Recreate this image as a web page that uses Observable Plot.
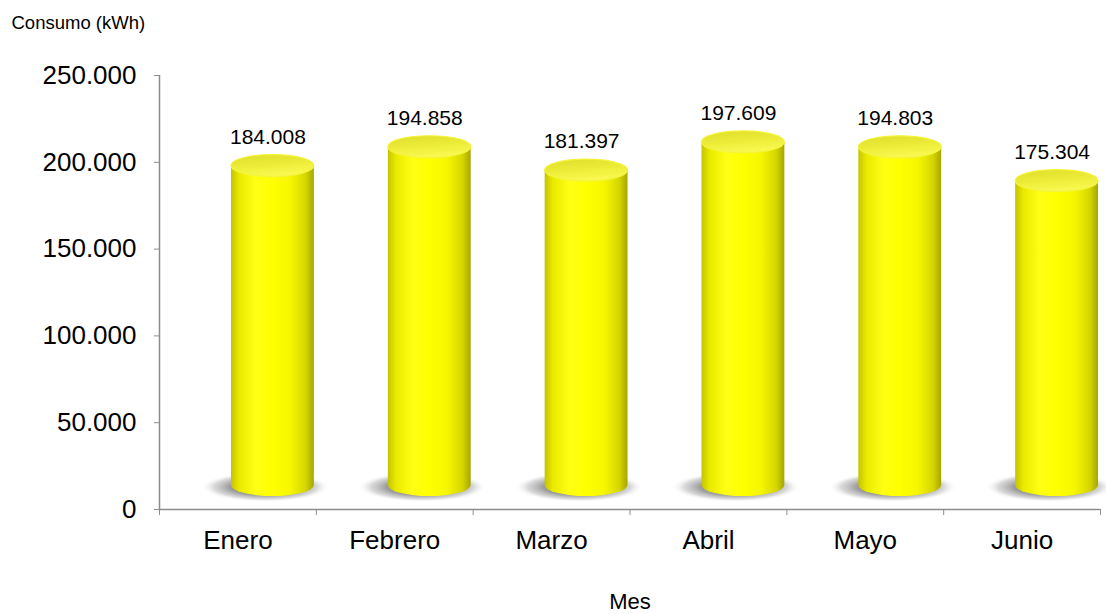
<!DOCTYPE html>
<html>
<head>
<meta charset="utf-8">
<script src="https://cdn.jsdelivr.net/npm/d3@7"></script>
<script src="https://cdn.jsdelivr.net/npm/@observablehq/plot@0.6"></script>
<style>
  html, body { margin: 0; padding: 0; background: #ffffff; }
  #chart svg { display: block; }
</style>
</head>
<body>
<div id="chart"></div>
<script>
// ---- data ----
const months = ["Enero", "Febrero", "Marzo", "Abril", "Mayo", "Junio"];
const consumo = [184008, 194858, 181397, 197609, 194803, 175304];
const yTicks = [0, 50000, 100000, 150000, 200000, 250000];
const xTicks = [0, 1, 2, 3, 4, 5, 6]; // category boundaries
const yTitle = "Consumo (kWh)";
const xTitle = "Mes";

const data = months.map((m, i) => ({mes: m, i, valor: consumo[i]}));
const fmt = d3.formatLocale({decimal: ",", thousands: ".", grouping: [3], currency: ["", ""]}).format(",d");

const gray = "#8c8c8c";
const font = "'Liberation Sans', Arial, Helvetica, sans-serif";

const svg = Plot.plot({
  width: 1106,
  height: 614,
  marginLeft: 159,
  marginRight: 6,
  marginTop: 75,
  marginBottom: 105,
  x: {domain: [0, 6], axis: null},
  y: {domain: [0, 250000], axis: null},
  style: {fontFamily: font, background: "#ffffff", color: "#000000", overflow: "visible"},
  marks: [
    // shadows (soft radial fade)
    Plot.rect(data, {
      x1: d => d.i, x2: d => d.i + 1, y1: () => 0, y2: () => 0,
      insetLeft: 42, insetRight: -14, insetTop: -15, insetBottom: -15,
      rx: 70, ry: 15, dy: -22, fill: "url(#shadowGrad)", ariaLabel: "shadow"
    }),
    // cylinder bodies
    Plot.rect(data, {
      x1: d => d.i, x2: d => d.i + 1, y1: () => 0, y2: "valor",
      insetLeft: 72, insetRight: 2, insetTop: -11, insetBottom: -11,
      rx: 41.5, ry: 11, dy: -24, fill: "url(#cylBody)", ariaLabel: "body"
    }),
    // cylinder tops
    Plot.rect(data, {
      x1: d => d.i, x2: d => d.i + 1, y1: "valor", y2: "valor",
      insetLeft: 72, insetRight: 2, insetTop: -11, insetBottom: -11,
      rx: 41.5, ry: 11, dy: -24, fill: "url(#cylTop)", stroke: "#f4f43a", strokeWidth: 1.2, ariaLabel: "top"
    }),
    // axes
    Plot.ruleX([0], {stroke: gray, strokeWidth: 1.5}),
    Plot.ruleY([0], {stroke: gray, strokeWidth: 1.5}),
    Plot.axisY(yTicks, {tickSize: 5, tickPadding: 18, tickFormat: fmt, fontSize: 26, stroke: gray, fill: "#000", label: null}),
    Plot.axisX(xTicks, {tickSize: 6, tickFormat: () => "", stroke: gray, label: null}),
    // month labels
    Plot.text(data, {x: d => d.i + 0.5, y: () => 0, text: "mes", dy: 31, fontSize: 26, fill: "#000"}),
    // value labels
    Plot.text(data, {x: d => d.i + 0.5, y: "valor", text: d => fmt(d.valor), dx: 30, dy: -53, fontSize: 21, fill: "#000"}),
    // titles
    Plot.text([yTitle], {frameAnchor: "top-left", lineAnchor: "middle", dx: -148, dy: -52, textAnchor: "start", fontSize: 18.5, fill: "#000"}),
    Plot.text([xTitle], {frameAnchor: "bottom", lineAnchor: "middle", dy: 92, fontSize: 22, fill: "#000"})
  ]
});

const defs = d3.select(svg).insert("defs", ":first-child");
defs.html(`
  <linearGradient id="cylBody" x1="0" y1="0" x2="1" y2="0">
    <stop offset="0" stop-color="#c4c400"/>
    <stop offset="0.1" stop-color="#eaea00"/>
    <stop offset="0.3" stop-color="#ffff14"/>
    <stop offset="0.5" stop-color="#ffff00"/>
    <stop offset="0.72" stop-color="#f6f600"/>
    <stop offset="0.9" stop-color="#d6d600"/>
    <stop offset="1" stop-color="#a6a600"/>
  </linearGradient>
  <linearGradient id="cylTop" x1="0" y1="0" x2="0.3" y2="1">
    <stop offset="0" stop-color="#dede2a"/>
    <stop offset="0.6" stop-color="#eeee3a"/>
    <stop offset="1" stop-color="#f8f850"/>
  </linearGradient>
  <radialGradient id="shadowGrad" cx="0.5" cy="0.5" r="0.5">
    <stop offset="0" stop-color="#7a7a7a" stop-opacity="0.95"/>
    <stop offset="0.55" stop-color="#8a8a8a" stop-opacity="0.85"/>
    <stop offset="0.8" stop-color="#aaaaaa" stop-opacity="0.45"/>
    <stop offset="1" stop-color="#ffffff" stop-opacity="0"/>
  </radialGradient>
`);

document.getElementById("chart").appendChild(svg);
</script>
</body>
</html>
